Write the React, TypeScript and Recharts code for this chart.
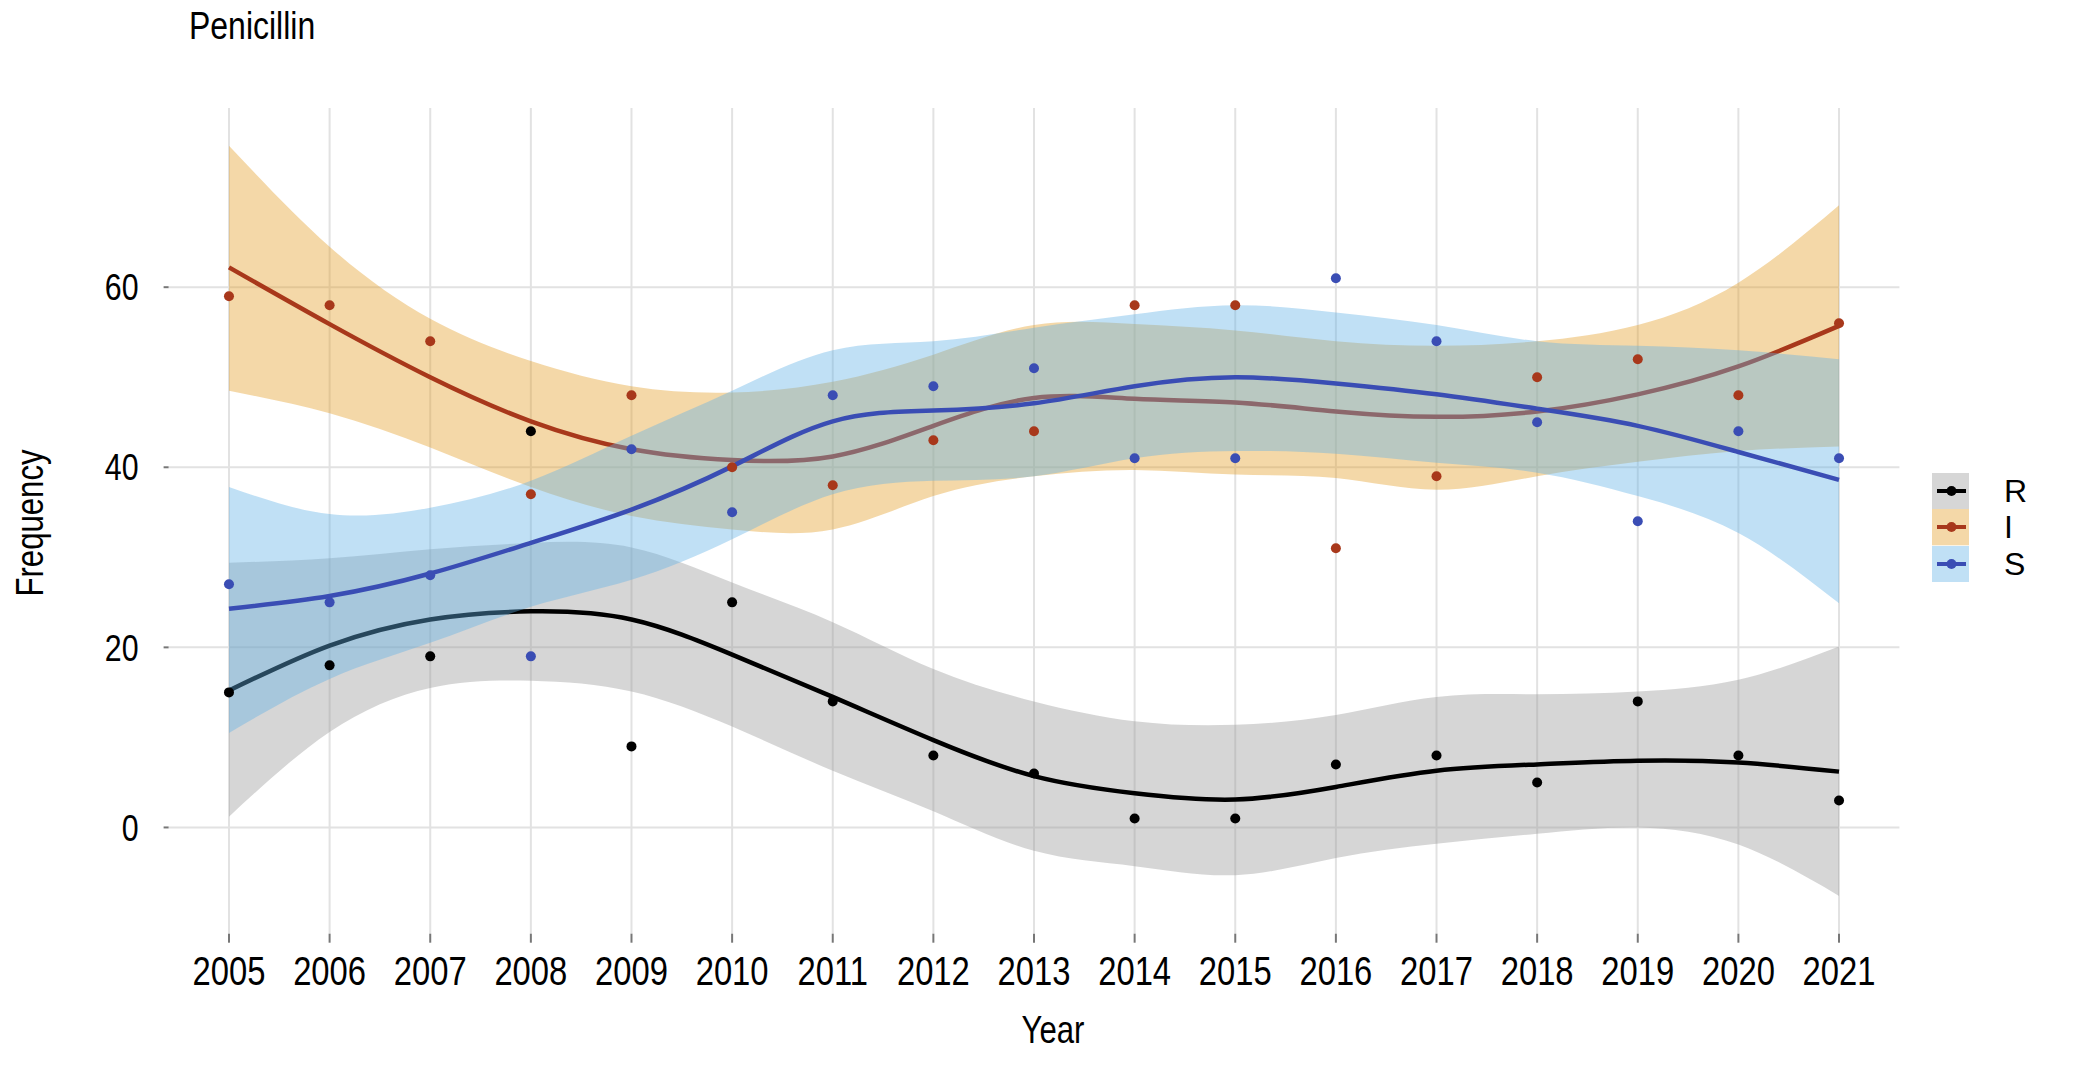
import React from "react";
import {
  ComposedChart,
  Area,
  Line,
  Scatter,
  XAxis,
  YAxis,
  CartesianGrid,
  Label,
} from "recharts";

const years = [2005, 2006, 2007, 2008, 2009, 2010, 2011, 2012, 2013, 2014, 2015, 2016, 2017, 2018, 2019, 2020, 2021];
const yTicks = [0, 20, 40, 60];

// observed frequencies
const rObserved = [15, 18, 19, 44, 9, 25, 14, 8, 6, 1, 1, 7, 8, 5, 14, 8, 3];
const iObserved = [59, 58, 54, 37, 48, 40, 38, 43, 44, 58, 58, 31, 39, 50, 52, 48, 56];
const sObserved = [27, 25, 28, 19, 42, 35, 48, 49, 51, 41, 41, 61, 54, 45, 34, 44, 41];

// smoothed fits and confidence bands
const rFit = [15.2, 20.2, 23.1, 24, 23.1, 19.2, 14.5, 9.7, 5.7, 3.8, 3.1, 4.5, 6.3, 7, 7.4, 7.2, 6.2];
const rLow = [1.2, 10.6, 15.5, 16.3, 15.1, 11.2, 6.3, 1.8, -2.6, -4.3, -5.3, -3.4, -1.8, -0.7, 0, -1.9, -7.6];
const rHigh = [29.4, 29.9, 30.9, 31.6, 31.1, 27.2, 22.8, 17.6, 14, 11.8, 11.4, 12.5, 14.5, 14.8, 15.1, 16.4, 20.1];

const iFit = [62.2, 55.9, 50, 45.1, 42, 40.8, 41.2, 44.6, 47.7, 47.6, 47.2, 46.2, 45.6, 46.2, 48.1, 51.2, 55.7];
const iLow = [48.5, 46, 42.2, 37.8, 34.6, 33.1, 33.1, 36.8, 39, 39.7, 39.2, 38.8, 37.5, 39, 40.6, 41.8, 42.3];
const iHigh = [75.7, 64.5, 56.5, 51.8, 49, 48.3, 49.5, 52.5, 55.8, 55.9, 55.2, 54, 53.5, 54, 55.8, 60.5, 69.1];

const sFit = [24.3, 25.7, 28.2, 31.6, 35.3, 40.1, 45.1, 46.3, 47.1, 49, 50, 49.3, 48.1, 46.5, 44.6, 41.7, 38.6];
const sLow = [10.5, 16.5, 20.5, 24.5, 27.5, 32, 37, 38.5, 39, 41, 41.8, 41.5, 40.5, 39.4, 36.8, 32.7, 24.9];
const sHigh = [37.8, 34.8, 35.5, 38.5, 43.5, 48.5, 53, 54, 55.5, 57, 58, 57.2, 55.8, 54, 53.5, 53, 52];

const data = years.map((year, i) => ({
  year,
  rObs: rObserved[i],
  iObs: iObserved[i],
  sObs: sObserved[i],
  rFit: rFit[i],
  iFit: iFit[i],
  sFit: sFit[i],
  rBand: [rLow[i], rHigh[i]],
  iBand: [iLow[i], iHigh[i]],
  sBand: [sLow[i], sHigh[i]],
}));

// Liberation Sans squeezed horizontally ~ Arial Narrow look of the original
const FONT = "'Liberation Sans', Arial, sans-serif";
const SQUEEZE = 0.82;

const series = [
  { name: "R", line: "#000000", band: "#999999" },
  { name: "I", line: "#a8381b", band: "#e49e26" },
  { name: "S", line: "#3a4db4", band: "#62b2e6" },
];

const dot = (color: string) => (props: any) =>
  <circle cx={props.cx} cy={props.cy} r={5} fill={color} />;

const XTick = (props: any) => (
  <g transform={`translate(${props.x},${props.y})`}>
    <text transform={`scale(${SQUEEZE},1)`} textAnchor="middle" dy="0.71em" fontSize={40} fontFamily={FONT} fill="#000">
      {props.payload.value}
    </text>
  </g>
);

const YTick = (props: any) => (
  <g transform={`translate(${props.x},${props.y})`}>
    <text transform={`scale(${SQUEEZE},1)`} textAnchor="end" dy="0.355em" fontSize={37} fontFamily={FONT} fill="#000">
      {props.payload.value}
    </text>
  </g>
);

function LegendBox() {
  return (
    <div style={{ position: "absolute", left: 1924, top: 465, fontFamily: FONT }}>
      {series.map((s) => (
        <div key={s.name} style={{ display: "flex", alignItems: "center", height: 36.3 }}>
          <svg width={37} height={36.3} style={{ display: "block" }}>
            <rect x={0} y={0} width={37} height={36.3} fill={s.band} fillOpacity={0.4} />
            <line x1={5} x2={34} y1={18} y2={18} stroke={s.line} strokeWidth={4} />
            <circle cx={19.5} cy={18} r={5} fill={s.line} />
          </svg>
          <span style={{ marginLeft: 35, fontSize: 32, lineHeight: "36px" }}>{s.name}</span>
        </div>
      ))}
    </div>
  );
}

export default function App() {
  return (
    <div style={{ position: "relative", width: 2069, height: 1058, fontFamily: FONT }}>
      <div
        style={{
          position: "absolute",
          left: 181,
          top: -2,
          fontSize: 39,
          lineHeight: "39px",
          transform: `scaleX(${SQUEEZE})`,
          transformOrigin: "left top",
        }}
      >
        Penicillin
      </div>
      <ComposedChart
        width={2069}
        height={1058}
        data={data}
        margin={{ top: 100, right: 177.6, bottom: 52.3, left: 0 }}
      >
        <CartesianGrid stroke="#e2e2e2" strokeWidth={2} horizontalValues={yTicks} verticalValues={years} syncWithTicks={false} />
        <XAxis
          dataKey="year"
          type="number"
          domain={[2004.4, 2021.6]}
          ticks={years}
          allowDataOverflow
          height={80}
          axisLine={false}
          tickSize={9}
          tickMargin={14}
          tickLine={{ stroke: "#777", strokeWidth: 2 }}
          tick={XTick}
        >
          <Label
            content={() => (
              <text
                transform={`translate(1045,1035) scale(${SQUEEZE},1)`}
                textAnchor="middle"
                fontSize={38}
                fontFamily={FONT}
                fill="#000"
              >
                Year
              </text>
            )}
          />
        </XAxis>
        <YAxis
          type="number"
          domain={[-11.8, 79.9]}
          ticks={yTicks}
          allowDataOverflow
          width={160.6}
          axisLine={false}
          tickSize={5}
          tickMargin={25}
          tickLine={{ stroke: "#777", strokeWidth: 2 }}
          tick={YTick}
        >
          <Label
            content={() => (
              <text
                transform={`translate(35,515) rotate(-90) scale(${SQUEEZE},1)`}
                textAnchor="middle"
                fontSize={38}
                fontFamily={FONT}
                fill="#000"
              >
                Frequency
              </text>
            )}
          />
        </YAxis>

        <Area type="natural" dataKey="rBand" stroke="none" fill={series[0].band} fillOpacity={0.4} isAnimationActive={false} zIndex={101} />
        <Line type="natural" dataKey="rFit" stroke={series[0].line} strokeWidth={4.5} dot={false} isAnimationActive={false} zIndex={102} />
        <Area type="natural" dataKey="iBand" stroke="none" fill={series[1].band} fillOpacity={0.4} isAnimationActive={false} zIndex={103} />
        <Line type="natural" dataKey="iFit" stroke={series[1].line} strokeWidth={4.5} dot={false} isAnimationActive={false} zIndex={104} />
        <Area type="natural" dataKey="sBand" stroke="none" fill={series[2].band} fillOpacity={0.4} isAnimationActive={false} zIndex={105} />
        <Line type="natural" dataKey="sFit" stroke={series[2].line} strokeWidth={4.5} dot={false} isAnimationActive={false} zIndex={106} />

        <Scatter dataKey="rObs" shape={dot(series[0].line)} isAnimationActive={false} zIndex={107} />
        <Scatter dataKey="iObs" shape={dot(series[1].line)} isAnimationActive={false} zIndex={108} />
        <Scatter dataKey="sObs" shape={dot(series[2].line)} isAnimationActive={false} zIndex={109} />
      </ComposedChart>
      <LegendBox />
    </div>
  );
}
